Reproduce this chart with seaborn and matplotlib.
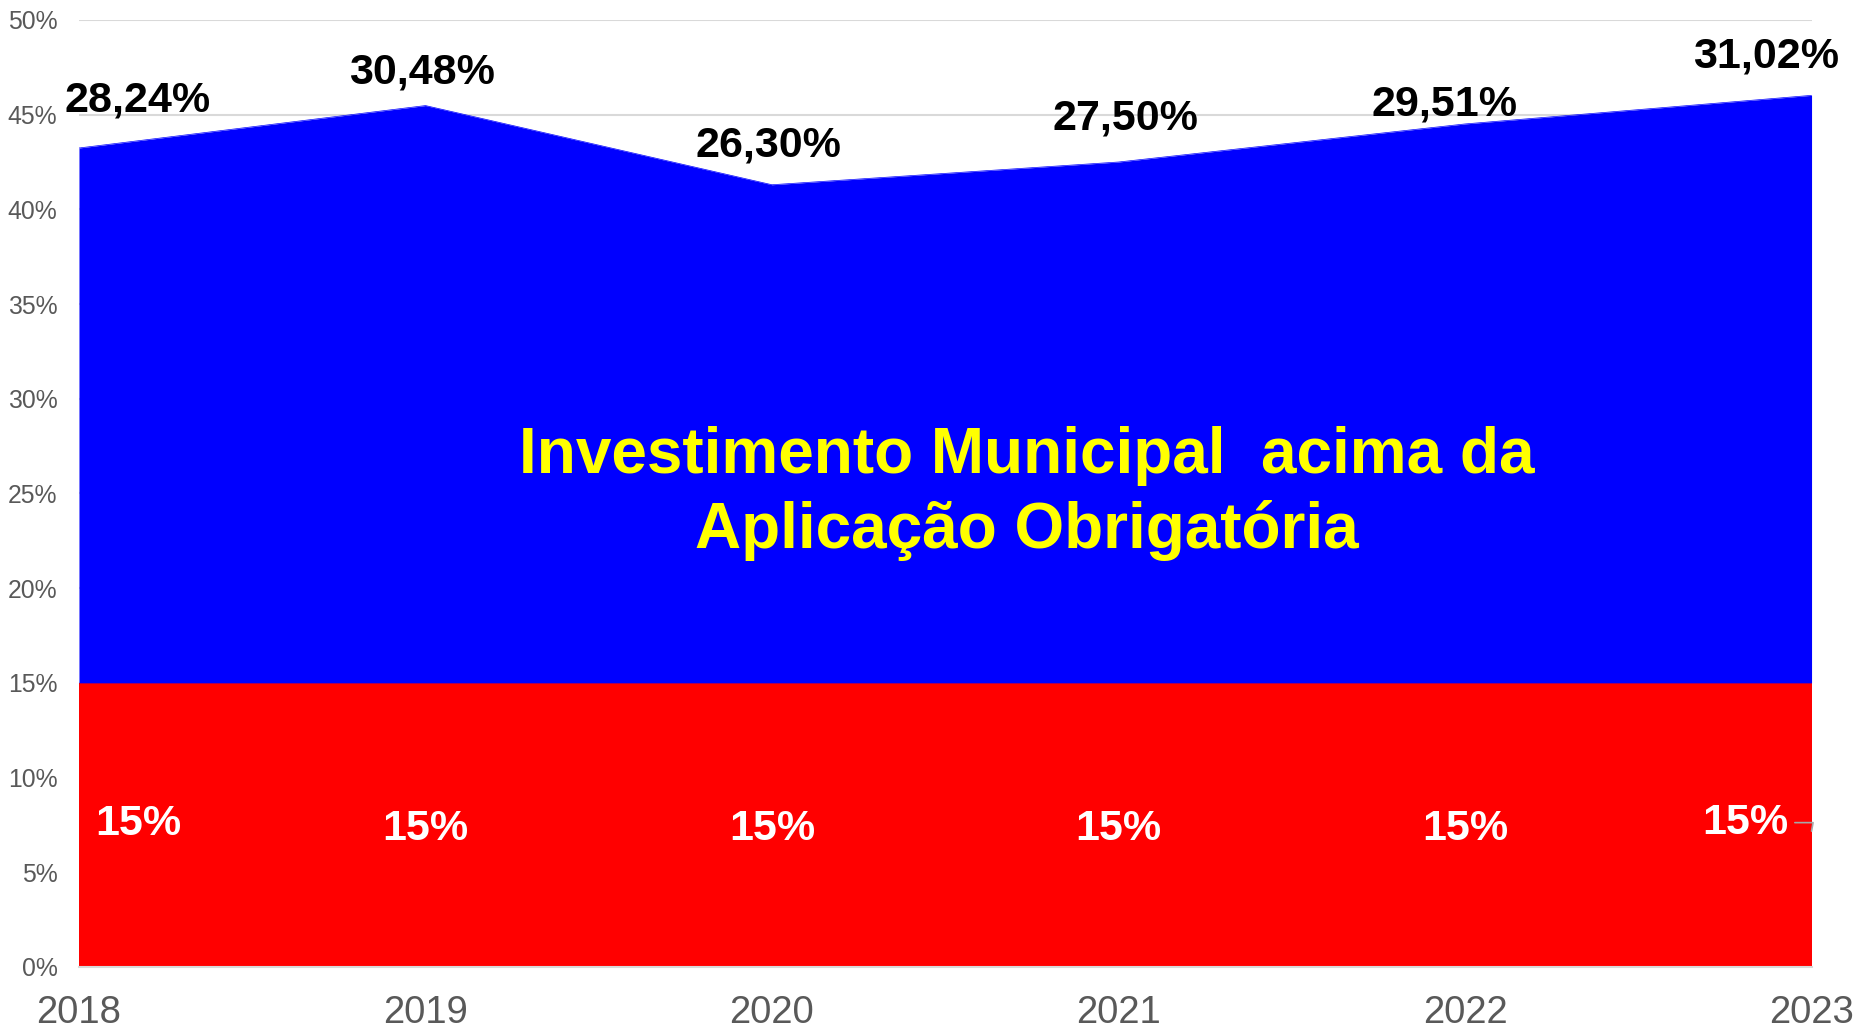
import matplotlib
matplotlib.use("Agg")
import matplotlib.pyplot as plt
import seaborn as sns
import numpy as np
import pandas as pd

# ---- data ----
years = [2018, 2019, 2020, 2021, 2022, 2023]
obrigatoria = [15, 15, 15, 15, 15, 15]
acima = [28.24, 30.48, 26.30, 27.50, 29.51, 31.02]
acima_labels = ["28,24%", "30,48%", "26,30%", "27,50%", "29,51%", "31,02%"]
obrig_labels = ["15%", "15%", "15%", "15%", "15%", "15%"]
yticks = [0, 5, 10, 15, 20, 25, 30, 35, 40, 45, 50]
center_text = "Investimento Municipal  acima da\nAplicação Obrigatória"

# label offsets (layout only)
top_dx = [0.17, -0.01, -0.01, 0.02, -0.06, -0.13]
top_dy = [2.52, 1.77, 2.07, 2.32, 1.02, 2.05]
low_dx = [0.17, 0.0, 0.0, 0.0, 0.0, -0.19]
low_dy = [7.56, 7.26, 7.26, 7.26, 7.26, 7.62]

sns.set_theme(style="white")
plt.rcParams['font.family'] = ['Liberation Sans', 'DejaVu Sans']

df = pd.DataFrame({"ano": years, "base": obrigatoria, "acima": acima})
df["topo"] = df["base"] + df["acima"]

fig = plt.figure(figsize=(18.58, 10.29), dpi=100)
ax = fig.add_axes([0.0425, 0.0603, 0.9325, 0.9203])

RED = "#FF0000"
BLUE = "#0000FF"
ax.fill_between(df["ano"], 0, df["base"], color=RED, linewidth=0, zorder=2)
ax.fill_between(df["ano"], df["base"], df["topo"], color=BLUE, linewidth=0, zorder=2)
sns.lineplot(data=df, x="ano", y="topo", ax=ax, color=BLUE, linewidth=0.5, zorder=3)

ax.set_xlim(years[0], years[-1])
ax.set_ylim(0, 50)
ax.set_yticks(yticks)
ax.set_yticklabels([f"{v}%" for v in yticks], fontsize=17.8, color="#595959")
ax.set_xticks(years)
ax.set_xticklabels([str(y) for y in years], fontsize=27.5, color="#595959")
ax.tick_params(axis="y", length=0, pad=15.5)
ax.tick_params(axis="x", length=9, width=1.5, color="#d9d9d9", pad=11)
ax.yaxis.grid(True, color="#d9d9d9", linewidth=1.5, zorder=0)
ax.set_axisbelow(True)
for s in ["left", "right", "top"]:
    ax.spines[s].set_visible(False)
ax.spines["bottom"].set_color("#d9d9d9")
ax.spines["bottom"].set_linewidth(1.5)
ax.spines["bottom"].set_zorder(4)
ax.set_xlabel("")
ax.set_ylabel("")

for i, yr in enumerate(years):
    ax.text(yr + top_dx[i], df["topo"][i] + top_dy[i], acima_labels[i],
            ha="center", va="center", fontsize=31, fontweight="bold", color="black", zorder=5)
    if i < len(years) - 1:
        ax.text(yr + low_dx[i], low_dy[i], obrig_labels[i],
                ha="center", va="center", fontsize=31, fontweight="bold", color="white", zorder=5)
    else:
        ax.annotate(obrig_labels[i], xy=(yr, low_dy[i] - 0.45),
                    xytext=(yr + low_dx[i], low_dy[i]), textcoords="data",
                    ha="center", va="center", fontsize=31, fontweight="bold", color="white",
                    zorder=5, annotation_clip=False,
                    arrowprops=dict(arrowstyle="-", color="#a6a6a6", lw=1.2,
                                    shrinkA=2, shrinkB=0,
                                    connectionstyle="angle,angleA=0,angleB=80,rad=0"))

ax.text(2020.735, 25.0, center_text, ha="center", va="center", fontsize=46,
        fontweight="bold", color="#FFFF00", linespacing=1.3, zorder=5)

fig.savefig("out.png", dpi=100)
